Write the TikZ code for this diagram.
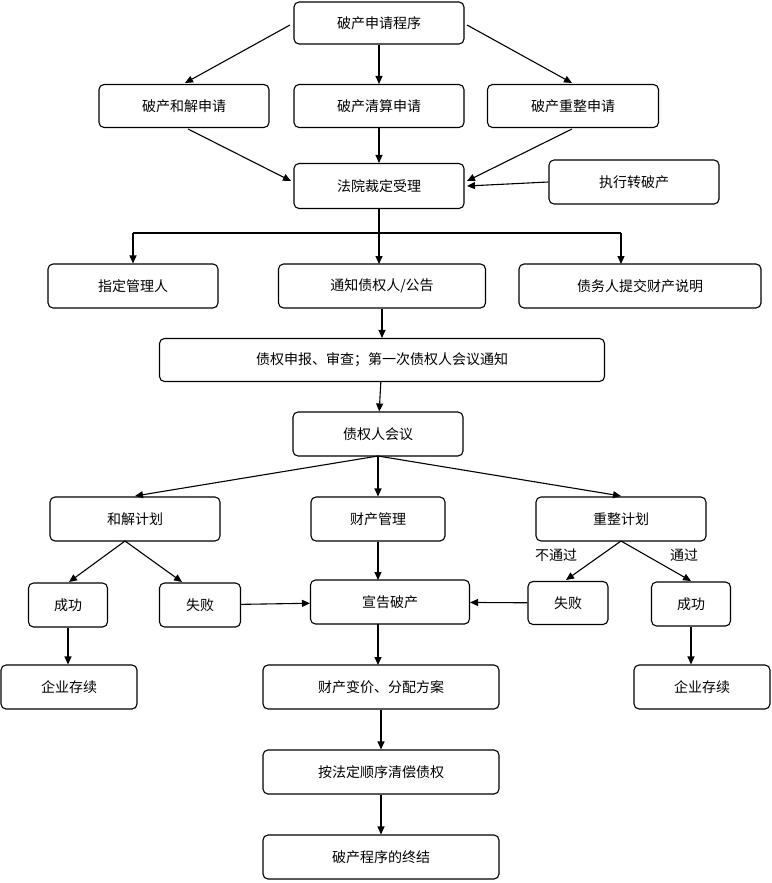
\documentclass[tikz,border=0pt]{standalone}
\usepackage{fontspec}
\newfontfamily\cjk{Noto Sans CJK SC}
\usetikzlibrary{arrows.meta}
\begin{document}
\begin{tikzpicture}[x=1pt,y=-1pt,
  box/.style={draw,rounded corners=5pt,line width=1.1pt,font=\cjk\fontsize{14}{16}\selectfont,inner sep=0pt,align=center},
  arr/.style={-{Triangle[length=8pt,width=7pt]},line width=1.1pt},
  lab/.style={font=\cjk\fontsize{14}{16}\selectfont}]
\useasboundingbox (0,0) rectangle (771,883);
\newcommand\bx[6]{\node[box,minimum width=#4pt,minimum height=#5pt] (#1) at (#2,#3) {#6};}
\bx{a}{379}{23}{170}{42}{破产申请程序}
\bx{b1}{184}{106}{170}{43}{破产和解申请}
\bx{b2}{379}{106}{170}{43}{破产清算申请}
\bx{b3}{573}{106}{171}{43}{破产重整申请}
\bx{c}{379}{186}{170}{45}{法院裁定受理}
\bx{z}{634}{182}{170}{44}{执行转破产}
\bx{d1}{133}{286}{170}{44}{指定管理人}
\bx{d2}{382}{286}{207}{44}{通知债权人/公告}
\bx{d3}{640}{286}{242}{44}{债务人提交财产说明}
\bx{e}{382}{360}{445}{43}{债权申报、审查；第一次债权人会议通知}
\bx{f}{378}{434}{170}{44}{债权人会议}
\bx{g1}{135}{519}{170}{44}{和解计划}
\bx{g2}{378}{519}{134}{44}{财产管理}
\bx{g3}{621}{519}{170}{44}{重整计划}
\bx{h1}{68}{605}{79}{44}{成功}
\bx{h2}{200}{605}{81}{44}{失败}
\bx{h3}{390}{602}{159}{44}{宣告破产}
\bx{h4}{568}{603}{80}{43}{失败}
\bx{h5}{691}{604}{79}{44}{成功}
\bx{i1}{69}{687}{136}{44}{企业存续}
\bx{i2}{381}{687}{236}{44}{财产变价、分配方案}
\bx{i3}{702}{687}{136}{44}{企业存续}
\bx{j}{381}{772}{236}{44}{按法定顺序清偿债权}
\bx{k}{381}{857}{236}{44}{破产程序的终结}
\draw[arr] (290,25) -- (185,83);
\draw[arr] (a) -- (b2);
\draw[arr] (467,25) -- (572,83);
\draw[arr] (188,129) -- (291,181);
\draw[arr] (b2) -- (c);
\draw[arr] (572,129) -- (467,181);
\draw[arr] (z.west) -- (467,186);
\draw[line width=1.1pt] (c.south) -- (379,233);
\draw[line width=1.1pt] (133,233) -- (621,233);
\draw[arr] (133,233) -- (d1.north);
\draw[arr] (379,233) -- (379,264);
\draw[arr] (621,233) -- (621,264);
\draw[arr] (d2) -- (e);
\draw[arr] (e) -- (f);
\draw[arr] (378,456) -- (135,496);
\draw[arr] (f) -- (g2);
\draw[arr] (378,456) -- (621,496);
\draw[arr] (125,541) -- (69,582);
\draw[arr] (125,541) -- (182,582);
\draw[arr] (g2) -- (378,580);
\draw[arr] (h1) -- (i1.north -| h1);
\draw[arr] (h2) -- (h3);
\draw[arr] (h4) -- (h3);
\draw[arr] (621,541) -- (566,580);
\draw[arr] (621,541) -- (691,581);
\draw[arr] (h5) -- (h5 |- i3.north);
\draw[arr] (378,624) -- (378,665);
\draw[arr] (i2) -- (j);
\draw[arr] (j) -- (k);
\node[lab] (l1) at (556,555) {不通过};
\node[lab] (l2) at (684,555) {通过};
\end{tikzpicture}
\end{document}
